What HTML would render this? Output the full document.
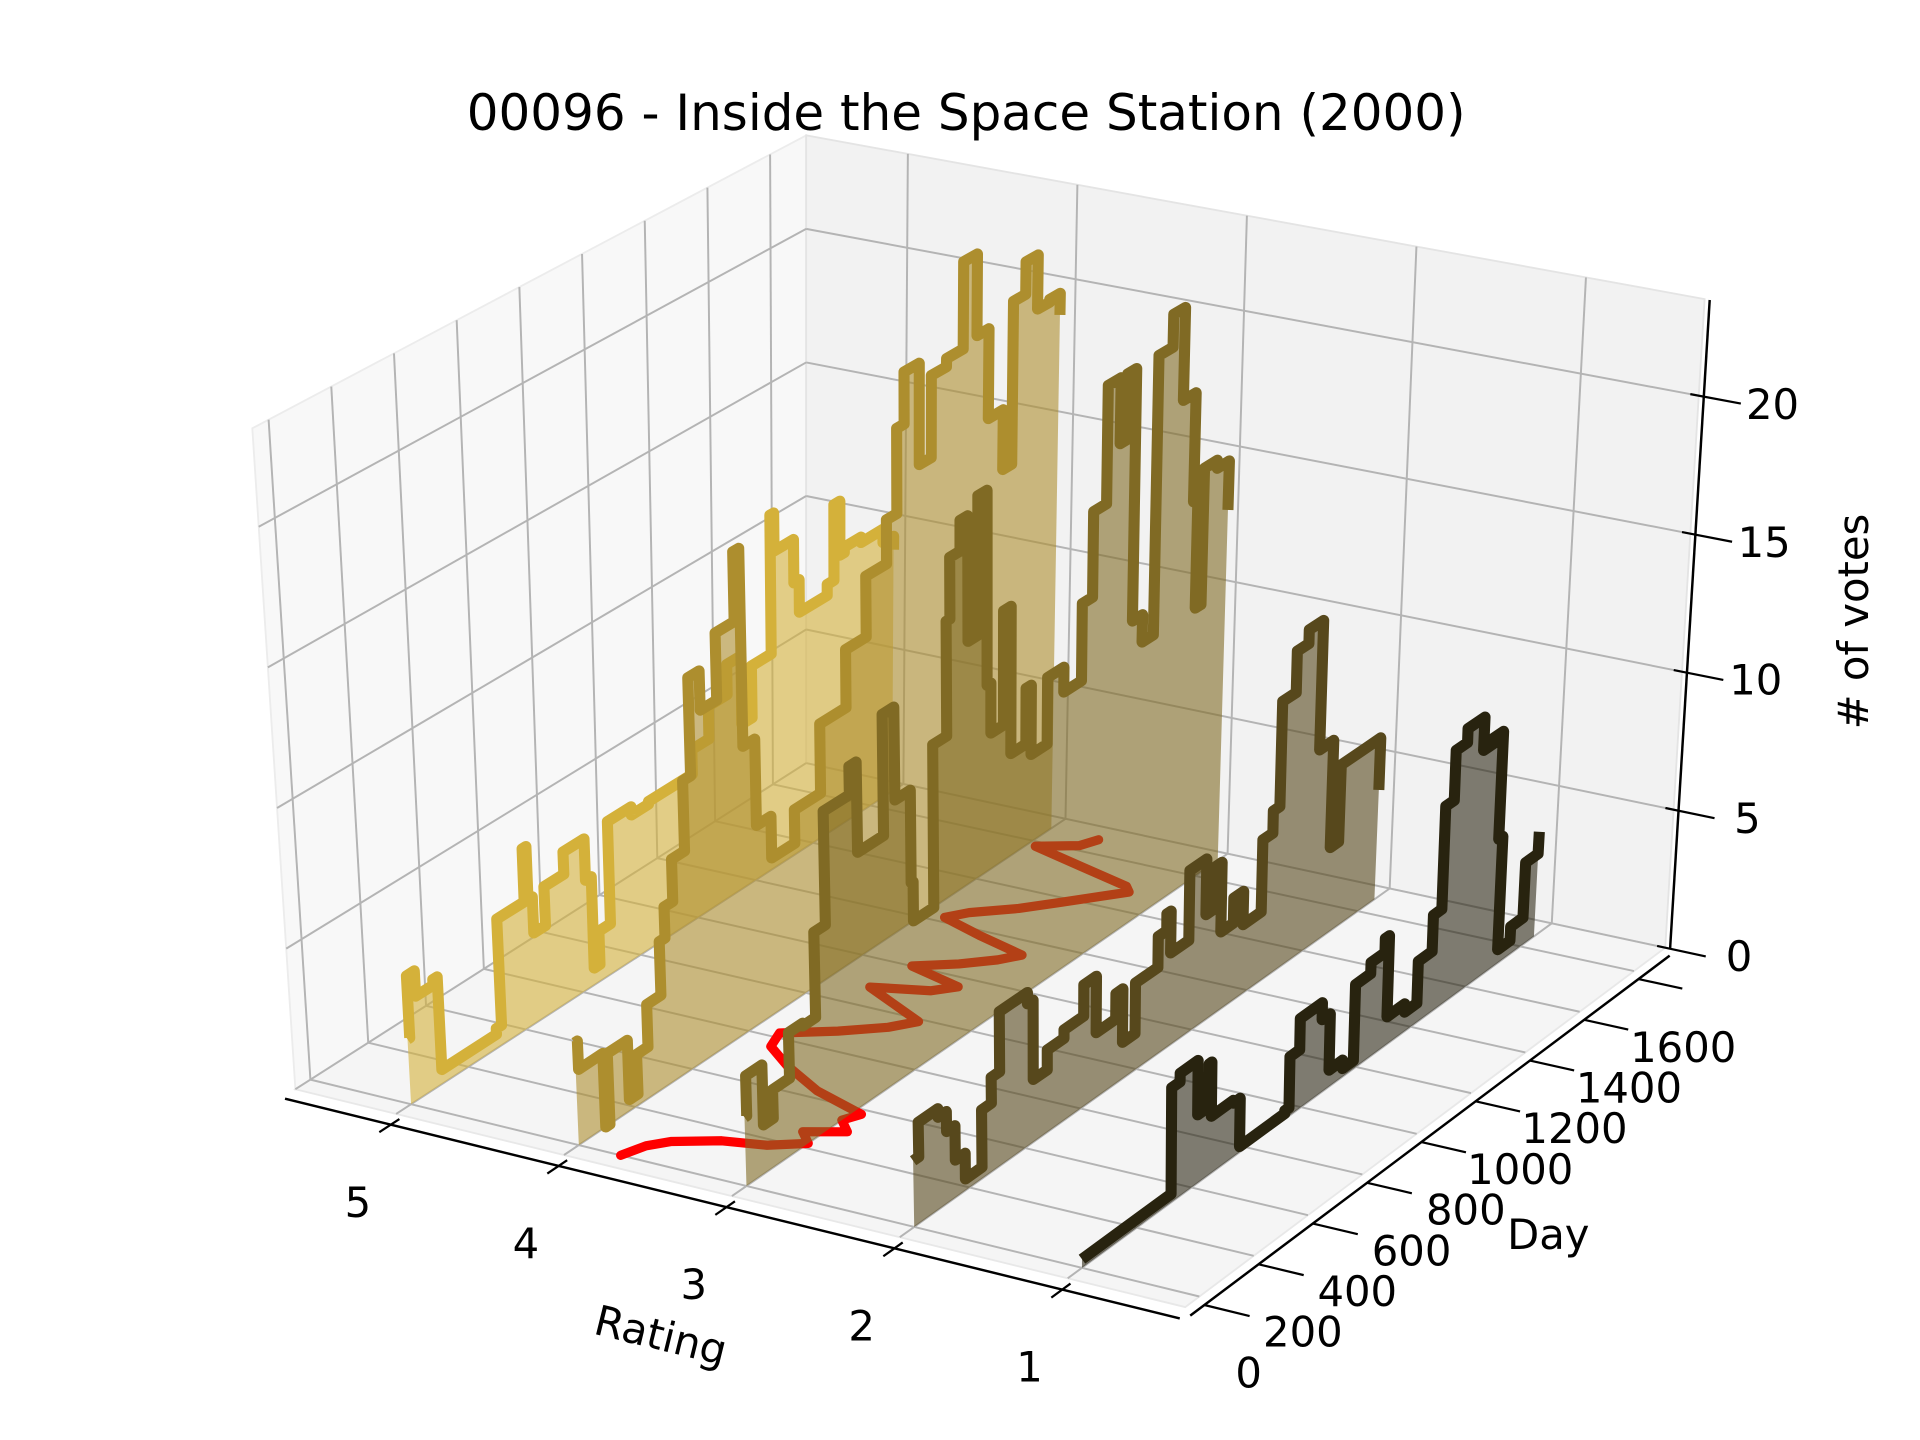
<!DOCTYPE html>
<html>
<head>
<meta charset="utf-8">
<style>
html,body{margin:0;padding:0;background:#ffffff;}
svg{display:block;}
</style>
</head>
<body>
<svg id="chart" xmlns="http://www.w3.org/2000/svg" width="1920" height="1440" viewBox="0 0 1560 1170" font-family="'DejaVu Sans','Liberation Sans',sans-serif">
  <rect x="0" y="0" width="1560" height="1170" fill="#ffffff"/>
  <g id="panes"></g>
  <g id="grid"></g>
  <g id="axes"></g>
  <g id="series"></g>
  <g id="ticklabels"></g>
  <text x="785" y="92" text-anchor="middle" dominant-baseline="central" font-size="40.6" fill="#000">00096 - Inside the Space Station (2000)</text>
  <text x="537" y="1085" text-anchor="middle" dominant-baseline="central" font-size="33.9" fill="#000" transform="rotate(13.8 537 1085)">Rating</text>
  <text x="1258" y="1003" text-anchor="middle" dominant-baseline="central" font-size="33.9" fill="#000">Day</text>
  <text x="1506" y="505" text-anchor="middle" dominant-baseline="central" font-size="33.9" fill="#000" transform="rotate(-90 1506 505)"># of votes</text>
</svg>
<script>
const ratingTicks = [1, 2, 3, 4, 5];
const dayTicks = [0, 200, 400, 600, 800, 1000, 1200, 1400, 1600];
const voteTicks = [0, 5, 10, 15, 20];

const r5Days = [0,8,35,95,110,300,318,400,412,425,440,480,548,620,640,660,700,781,840,926,990,1048,1112,1160,1195,1227,1262,1275,1300,1340,1358,1410,1452,1475,1495,1510,1566,1640,1676];
const r5Votes = [2.3,4.5,3.6,3.8,0.5,0.7,4.5,4.5,6.4,4.5,3.2,4.6,5.4,3.9,0.6,1.8,5.5,5.2,5.3,5.3,6.2,7.4,8.5,6,7.9,7.9,13,11.6,11.6,10,8.8,8.8,9.2,12,10,10.2,10,9.5,9];

const r4Days = [0,10,60,95,110,165,180,210,250,300,320,350,395,422,460,516,580,600,640,690,770,860,950,1020,1090,1125,1150,1200,1240,1290,1345,1390,1430,1480,1510,1550,1590,1630,1665];
const r4Votes = [3.6,2.6,2.6,0,2.5,2.5,0.4,1.8,3.3,5.2,6.3,7.8,10.3,13.8,12.4,14.8,17.3,10.2,7.1,5.6,6.8,9.3,11.4,13.6,15.2,18.3,20.2,16.5,19.5,19.8,23,20,16.7,14.5,20.5,21.7,19.7,19.8,19];

const r3Days = [0,8,65,100,160,210,255,295,385,410,500,540,593,600,671,719,732,767,793,827,858,871,914,940,992,1010,1066,1122,1183,1218,1262,1305,1327,1357,1392,1431,1478,1517,1560,1575,1595,1639,1680];
const r3Votes = [2.4,3.8,1.7,2.7,4.3,4.2,7.2,11.2,12.2,9,13.3,10,6.7,5.3,11.1,15.2,17.4,18.5,14,19,12,10.2,14.3,9,11,8.5,10.9,10,12.8,15.9,20.2,17.8,20.2,11,10,20.2,21.4,18,14,10,15,14.7,12.9];

const r2Days = [0,20,90,120,150,185,245,280,310,410,430,480,540,610,655,725,750,795,875,905,920,985,1045,1080,1100,1145,1180,1245,1280,1303,1350,1390,1440,1490,1520,1600,1660];
const r2Votes = [2.3,3.5,3.2,2.5,1.3,0.4,2.4,3.3,5.4,5.0,2.2,2.9,3.2,4.3,2.3,3.2,1.3,3.1,4.2,4.8,3.3,5.8,3.8,5.3,2.8,3.7,2.5,5.1,5.9,9.7,11.2,11.7,7,3.1,5.9,5.9,4];

const r1Days = [0,290,325,355,420,460,470,550,575,740,755,790,870,900,950,990,1045,1095,1110,1175,1220,1270,1300,1330,1370,1430,1465,1500,1515,1560,1605,1650];
const r1Votes = [0.3,0.3,4,4.3,2.4,3.9,2,1.9,0.2,0.3,2.1,3.2,2.6,0.6,0.3,3,3.4,3.9,1,0.7,2.2,3.5,7.2,9,9.5,8.3,8.5,4.6,0.5,1,3,3.8];

const meanDays = [0,60,100,150,175,220,260,300,340,380,430,500,560,620,680,740,790,840,880,920,960,1000,1050,1100,1140,1180,1220,1260,1320,1380,1440,1480,1500,1540,1580,1620,1660];
const meanRatings = [3.75,3.7,3.62,3.4,3.17,3.0,3.1,2.9,3.0,2.95,3.3,3.6,3.8,3.85,3.6,3.4,3.3,3.55,3.75,3.45,3.35,3.7,3.5,3.35,3.27,3.6,3.88,3.8,3.6,3.45,3.3,3.2,3.25,3.6,3.95,3.75,3.7];

const R0 = 5.6, R1 = 0.3, D0 = -52, D1 = 1715, ZMAX = 23.5;
const C000 = [240, 885], C100 = [963, 1062], C110 = [1353, 770], C010 = [655, 620];
const C001 = [205, 348], C101 = [965, 505], C111 = [1385, 243], C011 = [655, 110];
function lerp(a, b, t) { return [a[0] + (b[0] - a[0]) * t, a[1] + (b[1] - a[1]) * t]; }
function projUVW(u, v, w) {
  const b0 = lerp(lerp(C000, C100, u), lerp(C010, C110, u), v);
  const b1 = lerp(lerp(C001, C101, u), lerp(C011, C111, u), v);
  return lerp(b0, b1, w);
}
function proj(r, d, z) {
  return projUVW((R0 - r) / (R0 - R1), (d - D0) / (D1 - D0), z / ZMAX);
}
const NS = 'http://www.w3.org/2000/svg';
function mk(tag, parent) { const el = document.createElementNS(NS, tag); parent.appendChild(el); return el; }
function pts(list) { return list.map(p => p[0].toFixed(1) + ',' + p[1].toFixed(1)).join(' '); }

const gPanes = document.getElementById('panes');
const gGrid = document.getElementById('grid');
const gAxes = document.getElementById('axes');
const gSeries = document.getElementById('series');
const gLabels = document.getElementById('ticklabels');

const paneLeft = mk('polygon', gPanes);


paneLeft.setAttribute('points', pts([projUVW(0,0,0), projUVW(0,1,0), projUVW(0,1,1), projUVW(0,0,1)]));
paneLeft.setAttribute('fill', '#f8f8f8');
paneLeft.setAttribute('stroke', '#ececec');
paneLeft.setAttribute('stroke-width', '1.5');

const paneBack = mk('polygon', gPanes);


paneBack.setAttribute('points', pts([projUVW(0,1,0), projUVW(1,1,0), projUVW(1,1,1), projUVW(0,1,1)]));
paneBack.setAttribute('fill', '#f2f2f2');
paneBack.setAttribute('stroke', '#e4e4e4');
paneBack.setAttribute('stroke-width', '1.5');

const paneFloor = mk('polygon', gPanes);


paneFloor.setAttribute('points', pts([projUVW(0,0,0), projUVW(1,0,0), projUVW(1,1,0), projUVW(0,1,0)]));
paneFloor.setAttribute('fill', '#f5f5f5');
paneFloor.setAttribute('stroke', '#e8e8e8');
paneFloor.setAttribute('stroke-width', '1.5');

function gridLine(a, b) {
  const ln = mk('line', gGrid);
  
  
  ln.setAttribute('x1', a[0]); ln.setAttribute('y1', a[1]);
  ln.setAttribute('x2', b[0]); ln.setAttribute('y2', b[1]);
  ln.setAttribute('stroke', '#b4b4b4');
  ln.setAttribute('stroke-width', '1.6');
}
dayTicks.forEach(d => gridLine(proj(R0, d, 0), proj(R0, d, ZMAX)));
voteTicks.forEach(z => gridLine(proj(R0, D0, z), proj(R0, D1, z)));
ratingTicks.forEach(r => gridLine(proj(r, D1, 0), proj(r, D1, ZMAX)));
voteTicks.forEach(z => gridLine(proj(R0, D1, z), proj(R1, D1, z)));
ratingTicks.forEach(r => gridLine(proj(r, D0, 0), proj(r, D1, 0)));
dayTicks.forEach(d => gridLine(proj(R0, d, 0), proj(R1, d, 0)));

function axisLine(a, b, name, w) {
  const ln = mk('line', gAxes);
  
  
  ln.setAttribute('x1', a[0]); ln.setAttribute('y1', a[1]);
  ln.setAttribute('x2', b[0]); ln.setAttribute('y2', b[1]);
  ln.setAttribute('stroke', '#000');
  ln.setAttribute('stroke-width', w);
}
axisLine(proj(R0 + 0.03, D0 - 20, -0.25), proj(R1, D0 - 20, -0.25), 'x-axis-line', 2);
axisLine(proj(R1 - 0.03, D0, -0.25), proj(R1 - 0.03, D1, -0.25), 'y-axis-line', 2);
axisLine(proj(R1 - 0.03, D1, 0), proj(R1 - 0.03, D1, ZMAX), 'z-axis-line', 2);
ratingTicks.forEach(r => axisLine(proj(r, D0 - 60, -0.25), proj(r, D0 + 10, -0.25), 'x-tick-mark', 1.8));
dayTicks.forEach(d => axisLine(proj(R1 - 0.03, d, -0.25), proj(R1 - 0.3, d, -0.25), 'y-tick-mark', 1.8));
voteTicks.forEach(z => axisLine(proj(R1 + 0.05, D1, z), proj(R1 - 0.25, D1, z), 'z-tick-mark', 1.8));

function label(p, txt, name) {
  const t = mk('text', gLabels);
  
  
  t.setAttribute('x', p[0].toFixed(1));
  t.setAttribute('y', p[1].toFixed(1));
  t.setAttribute('text-anchor', 'middle');
  t.setAttribute('dominant-baseline', 'central');
  t.setAttribute('font-size', '33.9');
  t.setAttribute('fill', '#000');
  t.textContent = txt;
}
ratingTicks.forEach(r => { const p = proj(r, D0, 0); label([p[0] - 31, p[1] + 72], String(r), 'x-tick-label'); });
dayTicks.forEach(d => { const p = proj(R1, d, 0); label([p[0] + 40, p[1] + 62], String(d), 'y-tick-label'); });
voteTicks.forEach(z => { const p = proj(R1, D1, z); label([p[0] + 60, p[1] + 7], String(z), 'z-tick-label'); });

function stepPoints(r, days, votes) {
  const out = [];
  for (let i = 0; i < days.length; i++) {
    if (i > 0) out.push(proj(r, days[i], votes[i - 1]));
    out.push(proj(r, days[i], votes[i]));
  }
  return out;
}
function drawSeries(r, days, votes, color, alpha, key) {
  const line = stepPoints(r, days, votes);
  const poly = line.concat([proj(r, days[days.length - 1], 0), proj(r, days[0], 0)]);
  const fill = mk('polygon', gSeries);
  
  
  fill.setAttribute('points', pts(poly));
  fill.setAttribute('fill', color);
  fill.setAttribute('fill-opacity', alpha);
  const pl = mk('polyline', gSeries);
  
  
  pl.setAttribute('points', pts(line));
  pl.setAttribute('fill', 'none');
  pl.setAttribute('stroke', color);
  pl.setAttribute('stroke-width', '9');
  pl.setAttribute('stroke-linejoin', 'round');
  pl.setAttribute('stroke-linecap', 'butt');
}
function drawMean() {
  const line = meanDays.map((d, i) => proj(meanRatings[i], d, 0));
  const pl = mk('polyline', gSeries);
  
  
  pl.setAttribute('points', pts(line));
  pl.setAttribute('fill', 'none');
  pl.setAttribute('stroke', '#ff0000');
  pl.setAttribute('stroke-width', '7.5');
  pl.setAttribute('stroke-linejoin', 'round');
  pl.setAttribute('stroke-linecap', 'round');
}
drawSeries(5, r5Days, r5Votes, '#d4b13a', 0.6, 'rating-5');
drawSeries(4, r4Days, r4Votes, '#ad8e2e', 0.6, 'rating-4');
drawMean();
drawSeries(3, r3Days, r3Votes, '#806a24', 0.6, 'rating-3');
drawSeries(2, r2Days, r2Votes, '#57481c', 0.6, 'rating-2');
drawSeries(1, r1Days, r1Votes, '#28230f', 0.58, 'rating-1');
</script>
</body>
</html>
